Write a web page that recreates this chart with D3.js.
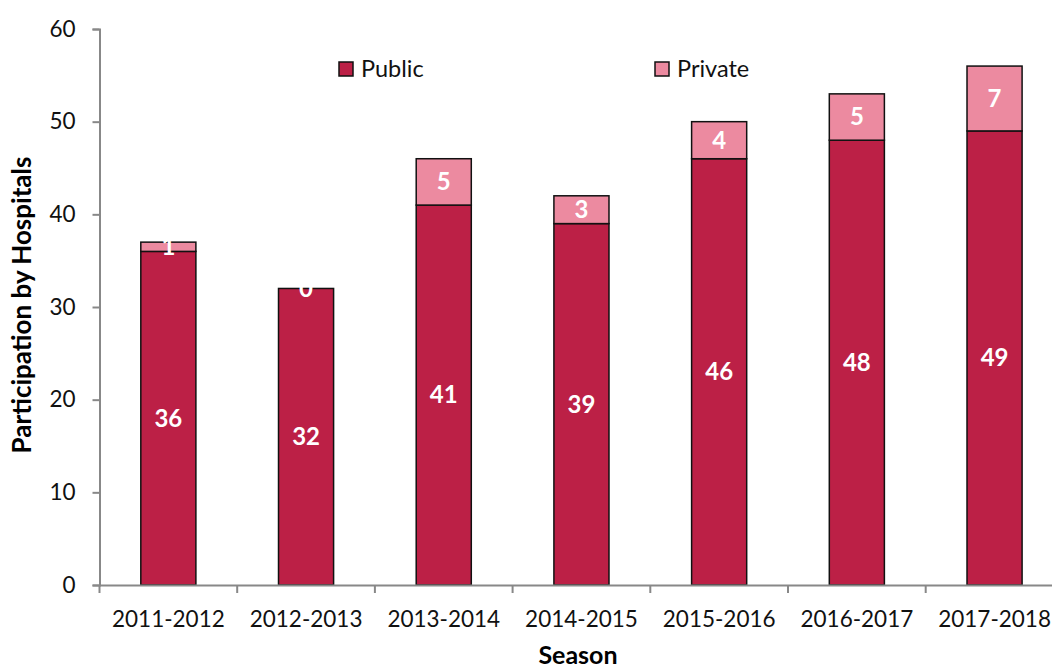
<!DOCTYPE html>
<html>
<head>
<meta charset="utf-8">
<script src="https://cdn.jsdelivr.net/npm/d3@7"></script>
<style>
	body { margin: 0; background: #fff; }
	text { font-family: Lato, "Open Sans", sans-serif; }
</style>
</head>
<body>
<div id="graph"></div>
<script>
// seasons and hospital counts
var seasons = ["2011-2012", "2012-2013", "2013-2014", "2014-2015",
	"2015-2016", "2016-2017", "2017-2018"];
var publicCounts = [36, 32, 41, 39, 46, 48, 49];
var privateCounts = [1, 0, 5, 3, 4, 5, 7];
var yTicks = [0, 10, 20, 30, 40, 50, 60];

var width = 1052, height = 670;
var colors = { pub: "#bc2046", priv: "#ec8aa0" };

var xScale = d3.scaleBand()
	.domain(seasons)
	.range([99.5, 99.5 + 7 * 137.7])
	.paddingInner(0.6)
	.paddingOuter(0.3);
var yScale = d3.scaleLinear()
	.domain([0, 60])
	.range([585, 29]);

var svg = d3.select("#graph").append("svg")
	.attr("width", width)
	.attr("height", height);

var rows = seasons.map(function (s, i) {
	return { season: s, pub: publicCounts[i], priv: privateCounts[i] };
});

// bars
var g = svg.append("g");
g.selectAll("rect.pub").data(rows).enter().append("rect")
	.attr("class", "pub")
	.attr("x", function (d) { return xScale(d.season); })
	.attr("width", xScale.bandwidth())
	.attr("y", function (d) { return yScale(d.pub); })
	.attr("height", function (d) { return yScale(0) - yScale(d.pub); })
	.attr("fill", colors.pub)
	.attr("stroke", "#111")
	.attr("stroke-width", 1.5);

g.selectAll("rect.priv").data(rows.filter(function (d) { return d.priv > 0; }))
	.enter().append("rect")
	.attr("class", "priv")
	.attr("x", function (d) { return xScale(d.season); })
	.attr("width", xScale.bandwidth())
	.attr("y", function (d) { return yScale(d.pub + d.priv); })
	.attr("height", function (d) { return yScale(d.pub) - yScale(d.pub + d.priv); })
	.attr("fill", colors.priv)
	.attr("stroke", "#111")
	.attr("stroke-width", 1.5);

// value labels
g.selectAll("text.pub").data(rows).enter().append("text")
	.attr("x", function (d) { return xScale(d.season) + xScale.bandwidth() / 2; })
	.attr("y", function (d) { return yScale(d.pub / 2); })
	.attr("dy", "0.35em")
	.attr("text-anchor", "middle")
	.attr("fill", "#fff")
	.attr("font-weight", "bold")
	.attr("font-size", 24)
	.text(function (d) { return d.pub; });

g.selectAll("text.priv").data(rows).enter().append("text")
	.attr("x", function (d) { return xScale(d.season) + xScale.bandwidth() / 2; })
	.attr("y", function (d) { return yScale(d.pub + d.priv / 2); })
	.attr("dy", "0.35em")
	.attr("text-anchor", "middle")
	.attr("fill", "#fff")
	.attr("font-weight", "bold")
	.attr("font-size", 24)
	.text(function (d) { return d.priv; });

// axes
var xAxis = d3.axisBottom(xScale).tickSize(0).tickPadding(26);
var yAxis = d3.axisLeft(yScale).tickValues(yTicks).tickSize(7).tickPadding(17);

var xg = svg.append("g")
	.attr("transform", "translate(0," + yScale(0) + ")")
	.call(xAxis);
xg.select(".domain").attr("stroke", "#888").attr("stroke-width", 2);
xg.selectAll("text").attr("font-size", 22.5).attr("fill", "#111");

// category boundary ticks
xg.selectAll("line.sep").data(seasons).enter().append("line")
	.attr("class", "sep")
	.attr("x1", function (d) { return xScale(d) - xScale.step() * xScale.paddingOuter(); })
	.attr("x2", function (d) { return xScale(d) - xScale.step() * xScale.paddingOuter(); })
	.attr("y1", 0).attr("y2", 8)
	.attr("stroke", "#888").attr("stroke-width", 2);

var yg = svg.append("g")
	.attr("transform", "translate(99.5,0)")
	.call(yAxis);
yg.select(".domain").attr("stroke", "#888").attr("stroke-width", 2);
yg.selectAll(".tick line").attr("stroke", "#888").attr("stroke-width", 2);
yg.selectAll("text").attr("font-size", 22.5).attr("fill", "#111");

// axis titles
svg.append("text")
	.attr("x", 578).attr("y", 664)
	.attr("text-anchor", "middle")
	.attr("font-weight", "bold")
	.attr("font-size", 25)
	.text("Season");

svg.append("text")
	.attr("transform", "translate(22,305) rotate(-90)")
	.attr("dy", "0.35em")
	.attr("text-anchor", "middle")
	.attr("font-weight", "bold")
	.attr("font-size", 26)
	.text("Participation by Hospitals");

// legend
var legend = [
	{ label: "Public", color: colors.pub, x: 339 },
	{ label: "Private", color: colors.priv, x: 655 }
];
var lg = svg.selectAll("g.legend").data(legend).enter().append("g")
	.attr("class", "legend")
	.attr("transform", function (d) { return "translate(" + d.x + ",62)"; });
lg.append("rect")
	.attr("width", 14).attr("height", 14)
	.attr("fill", function (d) { return d.color; })
	.attr("stroke", "#111").attr("stroke-width", 1.5);
lg.append("text")
	.attr("x", 22).attr("y", 7).attr("dy", "0.35em")
	.attr("font-size", 23.5)
	.attr("fill", "#111")
	.text(function (d) { return d.label; });
</script>
</body>
</html>
